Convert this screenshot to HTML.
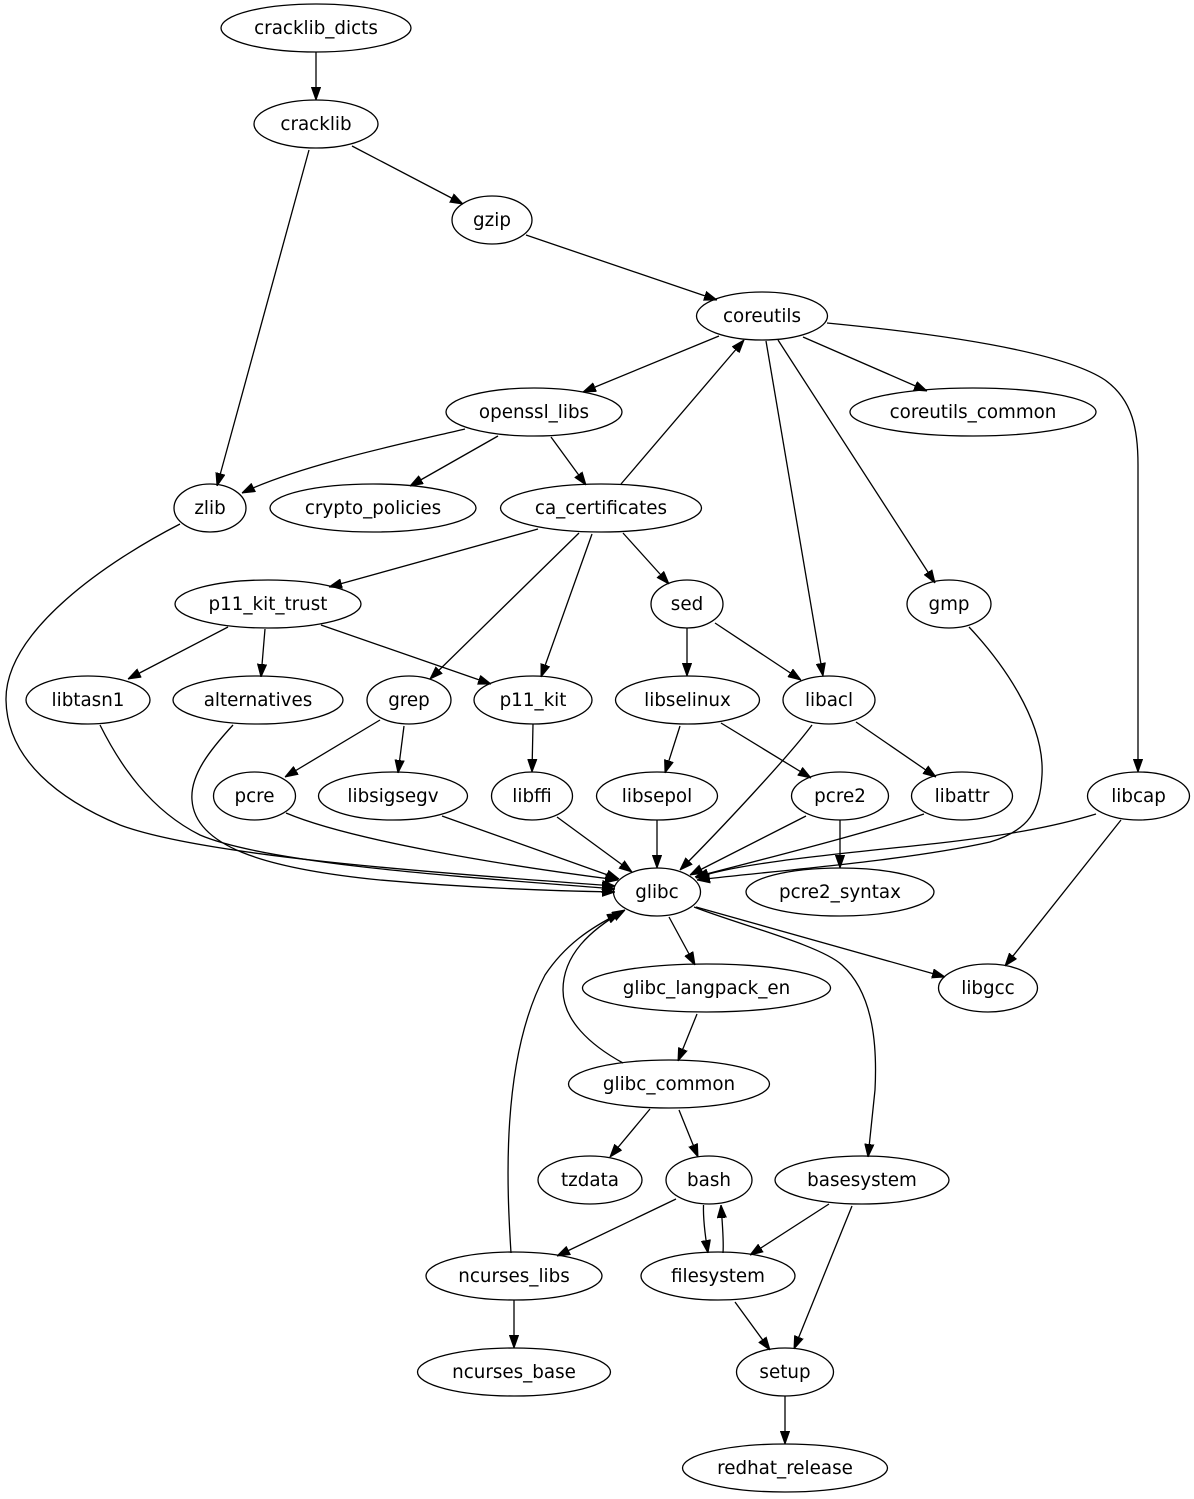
<!DOCTYPE html>
<html>
<head>
<meta charset="utf-8">
<style>
  html, body { margin: 0; padding: 0; background: #fff; }
  svg { display: block; }
  text { font-family: "DejaVu Sans", "Liberation Sans", sans-serif; font-size: 18.3px; fill: #000; text-anchor: middle; }
  ellipse { fill: none; stroke: #000; stroke-width: 1.3; }
  path.e { fill: none; stroke: #000; stroke-width: 1.3; marker-end: url(#ah); }
</style>
</head>
<body>
<svg width="1194" height="1499" viewBox="0 0 1194 1499" xmlns="http://www.w3.org/2000/svg">
  <defs>
    <marker id="ah" markerUnits="userSpaceOnUse" viewBox="0 0 13 10" refX="13" refY="5" markerWidth="13" markerHeight="10" orient="auto">
      <path d="M0,0.4 L13,5 L0,9.6 z" fill="#000" stroke="#000" stroke-width="1"/>
    </marker>
  </defs>
  <rect width="1194" height="1499" fill="#fff"/>

  <!-- edges -->
  <path class="e" d="M316,52 L316,100"/>
  <path class="e" d="M352,146 L463,204"/>
  <path class="e" d="M526,235 L717,300"/>
  <path class="e" d="M719,336 L583,392"/>
  <path class="e" d="M803,337 L927,391"/>
  <path class="e" d="M766,341 L823,676"/>
  <path class="e" d="M778,340 L935,583"/>
  <path class="e" d="M827,323 C930,333 1060,350 1105,380 C1133,400 1138,430 1138,465 L1138,772"/>
  <path class="e" d="M621,484 L744,340"/>
  <path class="e" d="M551,437 L586,485"/>
  <path class="e" d="M498,436 L410,486"/>
  <path class="e" d="M465,429 C410,442 300,465 242,493"/>
  <path class="e" d="M309,150 L217,486"/>
  <path class="e" d="M538,529 L329,587"/>
  <path class="e" d="M579,533 L430,679"/>
  <path class="e" d="M592,534 L541,677"/>
  <path class="e" d="M623,533 L669,584"/>
  <path class="e" d="M687,628 L687,676"/>
  <path class="e" d="M715,623 L801,680"/>
  <path class="e" d="M228,627 L128,679"/>
  <path class="e" d="M265,629 L261,677"/>
  <path class="e" d="M321,625 L491,684"/>
  <path class="e" d="M380,720 L285,777"/>
  <path class="e" d="M404,726 L398,773"/>
  <path class="e" d="M533,724 L532,772"/>
  <path class="e" d="M680,726 L665,773"/>
  <path class="e" d="M721,723 L811,778"/>
  <path class="e" d="M856,722 L936,777"/>
  <path class="e" d="M812,725 C790,755 720,830 680,870"/>
  <path class="e" d="M657,820 L657,868"/>
  <path class="e" d="M806,816 L690,875"/>
  <path class="e" d="M840,820 L840,868"/>
  <path class="e" d="M924,814 C860,835 760,860 695,877"/>
  <path class="e" d="M1096,814 C1050,828 1000,836 940,843 C850,853 740,862 696,878"/>
  <path class="e" d="M969,627 C1000,660 1045,720 1042,775 C1040,810 1030,830 990,842 C900,862 760,872 697,880"/>
  <path class="e" d="M1121,820 L1005,966"/>
  <path class="e" d="M286,813 C350,840 500,865 618,880"/>
  <path class="e" d="M442,816 L619,879"/>
  <path class="e" d="M557,817 L632,872"/>
  <path class="e" d="M180,524 C110,560 5,630 6,700 C7,760 60,800 120,825 C200,855 420,872 615,886"/>
  <path class="e" d="M100,725 C120,765 150,810 200,835 C270,865 480,878 615,889"/>
  <path class="e" d="M233,725 C210,750 190,775 192,800 C195,845 260,868 380,880 C470,888 560,891 615,892"/>
  <path class="e" d="M669,917 L695,965"/>
  <path class="e" d="M696,907 L945,977"/>
  <path class="e" d="M694,907 C740,925 820,945 842,965 C875,995 877,1050 875,1090 L868,1157"/>
  <path class="e" d="M697,1014 L678,1061"/>
  <path class="e" d="M623,1063 C590,1045 563,1020 563,990 C563,955 590,930 625,910"/>
  <path class="e" d="M511,1253 C507,1190 500,1060 545,975 C565,945 590,928 620,913"/>
  <path class="e" d="M650,1109 L610,1157"/>
  <path class="e" d="M679,1110 L698,1157"/>
  <path class="e" d="M676,1199 L557,1256"/>
  <path class="e" d="M703.5,1205 C703,1220 705,1235 708,1253"/>
  <path class="e" d="M723,1253 C724,1240 722,1220 721,1205"/>
  <path class="e" d="M829,1204 L750,1255"/>
  <path class="e" d="M852,1206 L794,1349"/>
  <path class="e" d="M735,1302 L770,1350"/>
  <path class="e" d="M514,1300 L514,1348"/>
  <path class="e" d="M785,1396 L785,1444"/>

  <!-- nodes -->
  <ellipse cx="316" cy="28" rx="95" ry="24"/><text x="316" y="34">cracklib_dicts</text>
  <ellipse cx="316" cy="124" rx="62" ry="24"/><text x="316" y="130">cracklib</text>
  <ellipse cx="492" cy="220" rx="40" ry="24"/><text x="492" y="226">gzip</text>
  <ellipse cx="762" cy="316" rx="65.5" ry="24"/><text x="762" y="322">coreutils</text>
  <ellipse cx="534" cy="412" rx="88" ry="24"/><text x="534" y="418">openssl_libs</text>
  <ellipse cx="973" cy="412" rx="123" ry="24"/><text x="973" y="418">coreutils_common</text>
  <ellipse cx="210" cy="508" rx="36" ry="24"/><text x="210" y="514">zlib</text>
  <ellipse cx="373" cy="508" rx="103" ry="24"/><text x="373" y="514">crypto_policies</text>
  <ellipse cx="601" cy="508" rx="100.5" ry="24"/><text x="601" y="514">ca_certificates</text>
  <ellipse cx="268" cy="604" rx="93" ry="24"/><text x="268" y="610">p11_kit_trust</text>
  <ellipse cx="687" cy="604" rx="36" ry="24"/><text x="687" y="610">sed</text>
  <ellipse cx="949" cy="604" rx="42" ry="24"/><text x="949" y="610">gmp</text>
  <ellipse cx="88" cy="700" rx="62" ry="24"/><text x="88" y="706">libtasn1</text>
  <ellipse cx="258" cy="700" rx="85" ry="24"/><text x="258" y="706">alternatives</text>
  <ellipse cx="409" cy="700" rx="42" ry="24"/><text x="409" y="706">grep</text>
  <ellipse cx="533" cy="700" rx="59" ry="24"/><text x="533" y="706">p11_kit</text>
  <ellipse cx="687.5" cy="700" rx="72" ry="24"/><text x="687.5" y="706">libselinux</text>
  <ellipse cx="829" cy="700" rx="46" ry="24"/><text x="829" y="706">libacl</text>
  <ellipse cx="254.5" cy="796" rx="41" ry="24"/><text x="254.5" y="802">pcre</text>
  <ellipse cx="393" cy="796" rx="74.5" ry="24"/><text x="393" y="802">libsigsegv</text>
  <ellipse cx="532" cy="796" rx="40.5" ry="24"/><text x="532" y="802">libffi</text>
  <ellipse cx="657" cy="796" rx="60.5" ry="24"/><text x="657" y="802">libsepol</text>
  <ellipse cx="840" cy="796" rx="48.5" ry="24"/><text x="840" y="802">pcre2</text>
  <ellipse cx="962" cy="796" rx="50.5" ry="24"/><text x="962" y="802">libattr</text>
  <ellipse cx="1138.5" cy="796" rx="51" ry="24"/><text x="1138.5" y="802">libcap</text>
  <ellipse cx="657" cy="892" rx="43.5" ry="24"/><text x="657" y="898">glibc</text>
  <ellipse cx="840" cy="892" rx="94" ry="24"/><text x="840" y="898">pcre2_syntax</text>
  <ellipse cx="706.5" cy="988" rx="124" ry="24"/><text x="706.5" y="994">glibc_langpack_en</text>
  <ellipse cx="988" cy="988" rx="49.5" ry="24"/><text x="988" y="994">libgcc</text>
  <ellipse cx="669" cy="1084" rx="100.5" ry="24"/><text x="669" y="1090">glibc_common</text>
  <ellipse cx="590" cy="1180" rx="52" ry="24"/><text x="590" y="1186">tzdata</text>
  <ellipse cx="709" cy="1180" rx="43" ry="24"/><text x="709" y="1186">bash</text>
  <ellipse cx="862" cy="1180" rx="87" ry="24"/><text x="862" y="1186">basesystem</text>
  <ellipse cx="514" cy="1276" rx="88" ry="24"/><text x="514" y="1282">ncurses_libs</text>
  <ellipse cx="718" cy="1276" rx="77" ry="24"/><text x="718" y="1282">filesystem</text>
  <ellipse cx="514" cy="1372" rx="96.5" ry="24"/><text x="514" y="1378">ncurses_base</text>
  <ellipse cx="785" cy="1372" rx="48.5" ry="24"/><text x="785" y="1378">setup</text>
  <ellipse cx="785" cy="1468" rx="102.5" ry="24"/><text x="785" y="1474">redhat_release</text>
</svg>
</body>
</html>
